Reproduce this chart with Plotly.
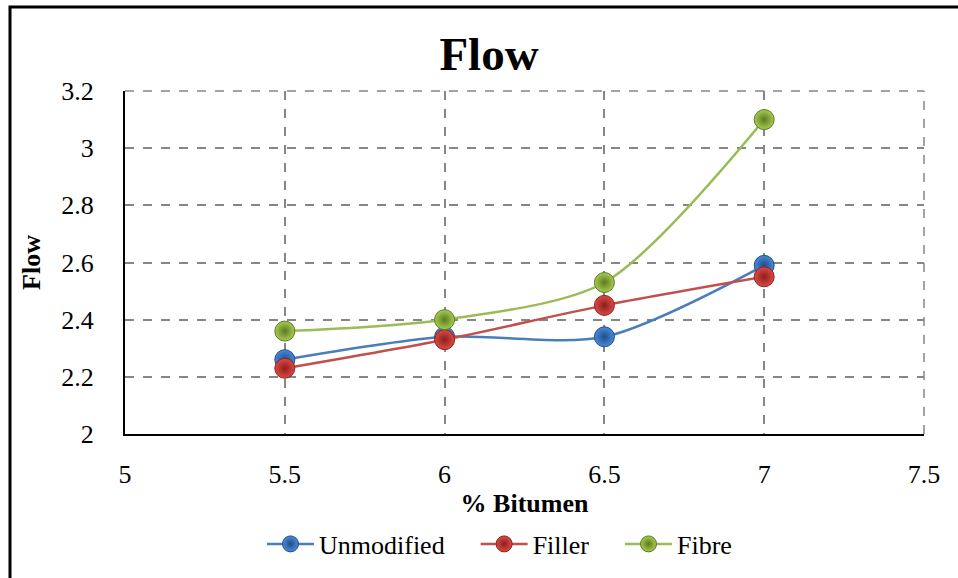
import plotly.graph_objects as go

x_vals = [5.5, 6, 6.5, 7]
unmodified = [2.26, 2.34, 2.34, 2.59]
filler = [2.23, 2.33, 2.45, 2.55]
fibre = [2.36, 2.40, 2.53, 3.10]
series_names = ["Unmodified", "Filler", "Fibre"]

styles = [
    ("#4a7ebb", "#4a8ad6", "#1f4e8c"),
    ("#c0504d", "#dc4a46", "#8c1f1c"),
    ("#9bbb59", "#a8cc52", "#5a7a1f"),
]

FONT = "Liberation Serif, Times New Roman, serif"
GRID = "#868686"
PAD = "\u00a0" * 4

fig = go.Figure()
for name, vals, (lc, mc, dc) in zip(series_names, [unmodified, filler, fibre], styles):
    fig.add_trace(go.Scatter(
        x=x_vals, y=vals, name=name + PAD, mode="lines+markers",
        hovertemplate=name + ": (%{x}, %{y})<extra></extra>",
        line=dict(color=lc, width=2.5, shape="spline", smoothing=0.8),
        marker=dict(size=20, color=mc,
                    gradient=dict(type="radial", color=dc),
                    line=dict(color=dc, width=1)),
    ))

L, R, T, B = 125, 34, 91, 144
W, H = 958, 578
pw, ph = W - L - R, H - T - B

fig.update_layout(
    width=W, height=H,
    margin=dict(l=L, r=R, t=T, b=B, pad=0, autoexpand=False),
    paper_bgcolor="white", plot_bgcolor="white",
    font=dict(family=FONT, size=26, color="black"),
    title=dict(text="<b>Flow</b>", x=489 / W, xanchor="center",
               y=1 - 54 / H, yanchor="middle",
               font=dict(family=FONT, size=47, color="black")),
    xaxis=dict(range=[5, 7.5], dtick=0.5, tick0=5,
               showline=True, linecolor="black", linewidth=2,
               showgrid=True, gridcolor=GRID, griddash="dash", gridwidth=1.5,
               zeroline=False, ticks="", ticklabelstandoff=16,
               tickfont=dict(family=FONT, size=26),
               title=dict(text="<b>% Bitumen</b>", standoff=2,
                          font=dict(family=FONT, size=26))),
    yaxis=dict(range=[2, 3.2], dtick=0.2, tick0=2,
               showline=True, linecolor="black", linewidth=2,
               showgrid=True, gridcolor=GRID, griddash="dash", gridwidth=1.5,
               zeroline=False, ticks="", ticklabelstandoff=24,
               tickfont=dict(family=FONT, size=26),
               tickformat="~g",
               title=dict(text="<b>Flow</b>", standoff=13,
                          font=dict(family=FONT, size=26))),
    legend=dict(orientation="h", x=(262 - L) / pw, xanchor="left",
                y=-(544 - (T + ph)) / ph, yanchor="middle",
                font=dict(family=FONT, size=26),
                itemwidth=47, tracegroupgap=0, bgcolor="rgba(0,0,0,0)"),
    showlegend=True,
)

# top and right dashed gridlines at the range edges
fig.add_shape(type="line", xref="x domain", yref="y domain", x0=0, x1=1, y0=1, y1=1,
              line=dict(color=GRID, width=1.5, dash="dash"), layer="below")
fig.add_shape(type="line", xref="x domain", yref="y domain", x0=1, x1=1, y0=0, y1=1,
              line=dict(color=GRID, width=1.5, dash="dash"), layer="below")

# outer chart border (extends beyond the right and bottom edges)
fig.add_shape(type="rect", xref="paper", yref="paper",
              x0=(10 - L) / pw, x1=(W + 20 - L) / pw,
              y0=-(B + 20) / ph, y1=1 + (T - 7) / ph,
              line=dict(color="black", width=3), fillcolor="rgba(0,0,0,0)",
              layer="above")

fig.write_html("out.html")
